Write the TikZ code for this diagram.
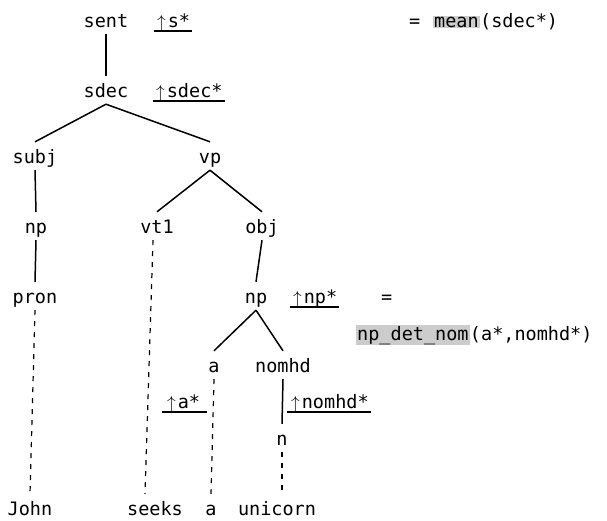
\documentclass[tikz,border=0pt]{standalone}
\usepackage{fontspec}
\setmonofont{DejaVu Sans Mono}
\newcommand{\uparr}{{\normalfont$\uparrow$}\kern2pt}
\begin{document}
\begin{tikzpicture}[x=1pt,y=-1pt,
  font=\ttfamily\fontsize{18.5}{22}\selectfont,
  lab/.style={anchor=base, text height=18pt, text depth=4pt, inner xsep=2pt, inner ysep=3pt},
  attr/.style={anchor=base west, inner sep=1pt},
  edge/.style={line width=1.5pt},
  uline/.style={line width=1.3pt},
  dline/.style={line width=1.2pt, dash pattern=on 5pt off 6pt},
  shade/.style={fill=black!20, inner sep=1pt, anchor=base west}]
\useasboundingbox (0,0) rectangle (607,520);
% tree nodes
\node[lab] (sent) at (106,27) {sent};
\node[lab] (sdec) at (106,97) {sdec};
\node[lab] (subj) at (35,163) {subj};
\node[lab] (vp) at (210,163) {vp};
\node[lab] (np1) at (36,233) {np};
\node[lab] (vt1) at (157,233) {vt1};
\node[lab] (obj) at (262,233) {obj};
\node[lab] (pron) at (35,303) {pron};
\node[lab] (np2) at (256,303) {np};
\node[lab] (a) at (214,372) {a};
\node[lab] (nomhd) at (283,372) {nomhd};
\node[lab] (n) at (282,445) {n};
\node[lab] (john) at (30,515) {John};
\node[lab] (seeks) at (155,515) {seeks};
\node[lab] (a2) at (211,515) {a};
\node[lab] (unicorn) at (277,515) {unicorn};
% solid connectors
\draw[edge] (sent.south) -- (sdec.north);
\draw[edge] (sdec.south) -- (subj.north);
\draw[edge] (sdec.south) -- (vp.north);
\draw[edge] (subj.south) -- (np1.north);
\draw[edge] (vp.south) -- (vt1.north);
\draw[edge] (vp.south) -- (obj.north);
\draw[edge] (np1.south) -- (pron.north);
\draw[edge] (obj.south) -- (np2.north);
\draw[edge] (np2.south) -- (a.north);
\draw[edge] (np2.south) -- (nomhd.north);
\draw[edge] (nomhd.south) -- (n.north);
% dashed connectors
\draw[dline] (pron.south) -- (john.north);
\draw[dline] ([xshift=-4pt]vt1.south) -- ([xshift=-10pt]seeks.north);
\draw[dline] (a.south) -- (a2.north);
\draw[dline] (n.south) -- ([xshift=5pt]unicorn.north);
% attributes
\node[attr] (as) at (156,27) {\uparr s*};
\draw[uline] ([xshift=-2pt,yshift=-4pt]as.base west) -- ([xshift=1pt,yshift=-4pt]as.base east);
\node[attr] (asdec) at (155,97) {\uparr sdec*};
\draw[uline] ([xshift=-2pt,yshift=-4pt]asdec.base west) -- ([xshift=1pt,yshift=-4pt]asdec.base east);
\node[attr] (eq1) at (408,27) {=};
\node[shade] (mean) at (433,27) {mean};
\node[attr, inner sep=0pt] (meanarg) at (mean.base east) {(sdec*)};
\node[attr] (anp) at (292,303) {\uparr np*};
\draw[uline] ([xshift=-2pt,yshift=-4pt]anp.base west) -- ([xshift=1pt,yshift=-4pt]anp.base east);
\node[attr] (eq2) at (380,303) {=};
\node[shade] (npdet) at (356,340) {np\_det\_nom};
\node[attr, inner sep=0pt] (npargs) at (npdet.base east) {(a*,nomhd*)};
\node[attr] (aa) at (166,408) {\uparr a*};
\draw[uline] ([xshift=-4pt,yshift=-4pt]aa.base west) -- ([xshift=6pt,yshift=-4pt]aa.base east);
\node[attr] (anomhd) at (290,408) {\uparr nomhd*};
\draw[uline] ([xshift=-3pt,yshift=-4pt]anomhd.base west) -- ([xshift=1pt,yshift=-4pt]anomhd.base east);
\end{tikzpicture}
\end{document}
